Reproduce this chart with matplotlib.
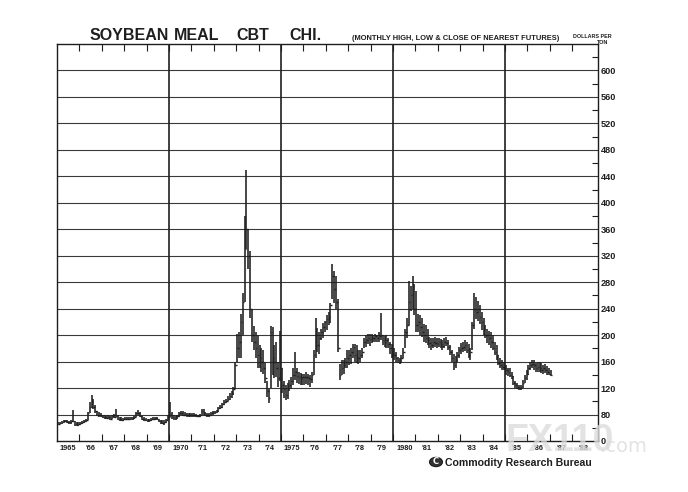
import matplotlib
matplotlib.use("Agg")
import matplotlib.pyplot as plt
from matplotlib.patches import Circle
import numpy as np

start_year = 1965

# Monthly high / low / close, $ per ton, Jan 1965 .. Jan 1987
high = [
    68, 69, 70, 71, 72, 72, 70, 72, 87, 70, 68, 68,        # 1965
    69, 70, 72, 74, 84, 99, 109, 104, 95, 86, 84, 82,      # 1966
    80, 79, 78, 79, 78, 80, 81, 88, 79, 76, 76, 75,        # 1967
    76, 76, 77, 77, 77, 78, 84, 87, 84, 78, 76, 75,        # 1968
    74, 74, 75, 76, 77, 77, 74, 72, 72, 72, 74, 80,        # 1969
    99, 84, 80, 78, 80, 84, 86, 85, 84, 83, 82, 82,        # 1970
    82, 82, 81, 80, 81, 88, 89, 84, 82, 82, 84, 86,        # 1971
    86, 87, 92, 95, 98, 102, 104, 108, 112, 115, 122, 160, # 1972
    202, 205, 232, 264, 380, 450, 360, 327, 240, 214, 205, 200,  # 1973
    185, 181, 178, 160, 131, 118, 214, 212, 185, 189, 160, 207,  # 1974
    150, 130, 125, 128, 132, 136, 150, 174, 150, 145, 143, 142,  # 1975
    142, 144, 142, 140, 144, 177, 226, 211, 205, 210, 218, 222,  # 1976
    230, 235, 249, 308, 297, 290, 255, 157, 162, 162, 165, 177,  # 1977
    177, 180, 187, 187, 185, 177, 177, 180, 195, 200, 202, 202,  # 1978
    202, 200, 202, 200, 205, 234, 200, 198, 200, 196, 190, 187,  # 1979
    180, 175, 167, 165, 170, 180, 210, 226, 282, 275, 290, 278,  # 1980
    267, 232, 230, 226, 217, 215, 210, 197, 195, 196, 197, 195,  # 1981
    195, 194, 192, 195, 197, 192, 185, 178, 172, 168, 175, 182,  # 1982
    188, 190, 192, 190, 187, 180, 220, 264, 258, 252, 245, 235,  # 1983
    226, 215, 210, 207, 205, 200, 190, 185, 170, 165, 162, 160,  # 1984
    155, 151, 150, 145, 138, 130, 127, 124, 125, 132, 140, 147,  # 1985
    155, 160, 162, 162, 158, 159, 160, 158, 155, 156, 154, 150,  # 1986
    148,                                                          # 1987
]
low = [
    64, 65, 66, 67, 68, 67, 66, 66, 68, 63, 62, 63,
    64, 65, 67, 69, 72, 82, 90, 88, 82, 78, 77, 76,
    75, 74, 73, 74, 72, 74, 75, 76, 72, 70, 70, 70,
    71, 71, 72, 72, 72, 73, 76, 79, 76, 72, 70, 70,
    69, 69, 70, 71, 72, 71, 68, 66, 65, 64, 67, 72,
    76, 74, 72, 72, 74, 76, 79, 78, 78, 77, 77, 76,
    77, 77, 76, 76, 76, 79, 80, 78, 77, 77, 79, 80,
    81, 82, 84, 88, 90, 94, 97, 100, 102, 105, 110, 118,
    160, 165, 166, 200, 250, 330, 300, 226, 189, 177, 165, 150,
    150, 145, 142, 128, 106, 97, 120, 140, 135, 136, 121, 130,
    112, 105, 102, 104, 115, 118, 125, 132, 128, 126, 124, 125,
    124, 126, 125, 122, 128, 140, 166, 175, 172, 192, 195, 205,
    208, 215, 219, 255, 249, 240, 175, 132, 140, 142, 150, 151,
    155, 157, 165, 160, 158, 157, 160, 165, 180, 182, 186, 184,
    188, 189, 190, 189, 190, 192, 185, 182, 181, 180, 172, 165,
    162, 160, 158, 156, 158, 165, 180, 195, 215, 237, 240, 230,
    204, 205, 200, 197, 190, 188, 185, 180, 178, 180, 182, 180,
    182, 180, 178, 181, 183, 178, 170, 160, 148, 150, 160, 165,
    172, 175, 176, 173, 166, 162, 178, 210, 225, 222, 217, 208,
    200, 195, 188, 185, 180, 177, 170, 162, 155, 150, 148, 147,
    140, 138, 136, 133, 125, 120, 118, 117, 117, 120, 128, 132,
    140, 147, 150, 148, 145, 144, 145, 143, 142, 143, 140, 139,
    138,
]
close = [
    66, 67, 68, 70, 70, 69, 68, 70, 70, 65, 64, 66,
    67, 68, 70, 72, 82, 92, 100, 92, 85, 80, 79, 78,
    77, 76, 75, 76, 74, 78, 77, 78, 74, 73, 72, 73,
    73, 74, 74, 75, 75, 76, 82, 83, 78, 74, 72, 72,
    71, 72, 73, 74, 75, 74, 70, 68, 67, 68, 72, 77,
    80, 77, 75, 76, 78, 82, 82, 80, 81, 80, 79, 79,
    80, 79, 78, 78, 79, 85, 82, 80, 79, 80, 82, 84,
    84, 85, 90, 92, 96, 99, 101, 104, 108, 112, 118, 155,
    180, 190, 220, 250, 330, 360, 320, 240, 200, 190, 180, 170,
    165, 160, 150, 135, 115, 105, 205, 165, 160, 150, 135, 150,
    125, 118, 110, 120, 125, 130, 140, 145, 138, 136, 135, 136,
    136, 137, 135, 134, 140, 170, 200, 185, 195, 205, 212, 220,
    225, 228, 245, 290, 270, 250, 180, 140, 150, 155, 160, 165,
    170, 175, 182, 170, 165, 165, 170, 175, 190, 192, 196, 194,
    195, 196, 198, 195, 198, 200, 192, 190, 193, 186, 180, 172,
    170, 165, 162, 160, 166, 175, 205, 215, 250, 260, 275, 240,
    215, 220, 212, 205, 200, 195, 192, 188, 185, 190, 188, 186,
    190, 186, 184, 190, 188, 182, 175, 165, 155, 162, 170, 178,
    180, 182, 185, 178, 170, 175, 215, 240, 235, 240, 228, 220,
    210, 200, 200, 195, 190, 180, 175, 170, 158, 155, 152, 150,
    148, 145, 140, 138, 128, 124, 122, 120, 122, 128, 135, 142,
    150, 155, 157, 155, 150, 152, 150, 148, 150, 148, 145, 141,
    140,
]

year_labels = ["1965", "'66", "'67", "'68", "'69", "1970", "'71", "'72", "'73",
               "'74", "1975", "'76", "'77", "'78", "'79", "1980", "'81", "'82",
               "'83", "'84", "'85", "'86", "'87", "'88"]
price_ticks = [40, 80, 120, 160, 200, 240, 280, 320, 360, 400, 440, 480, 520, 560, 600]
price_labels = ["0", "80", "120", "160", "200", "240", "280", "320", "360", "400",
                "440", "480", "520", "560", "600"]

INK = "#1e1e1e"
FAM = ["Liberation Sans", "DejaVu Sans"]
fig = plt.figure(figsize=(6.88, 4.92), dpi=100)
fig.patch.set_facecolor("white")
ax = fig.add_axes([57 / 688, 1 - 441 / 492, (598 - 57) / 688, (441 - 44) / 492])

n = len(high)
x = start_year + (np.arange(n) + 0.5) / 12.0
ax.vlines(x, low, high, color=INK, lw=1.15, zorder=3)
ax.hlines(close, x, x + 0.07, color=INK, lw=1.0, zorder=3)

ax.set_xlim(1965, 1989.15)
ax.set_ylim(40, 640)

# grid
for p in price_ticks[1:]:
    ax.axhline(p, color="#3a3a3a", lw=0.8, zorder=1)
for yr in [1970, 1975, 1980, 1985]:
    ax.axvline(yr, color="#202020", lw=1.2, zorder=1)

# y axis on the right
ax.yaxis.tick_right()
ax.set_yticks(price_ticks)
ax.set_yticklabels(price_labels, fontsize=6.6, fontweight="bold", family=FAM)
ax.set_yticks(np.arange(60, 640, 40), minor=True)
ax.tick_params(axis="y", which="major", length=0, pad=2, labelcolor=INK)
ax.tick_params(axis="y", which="minor", direction="in", length=4, width=0.8,
               left=False, right=True, color=INK)

# x axis
ax.set_xticks(np.arange(1966, 1989))
ax.set_xticklabels([])
ax.set_xticks(np.arange(1965, 1989) + 0.5, minor=True)
ax.set_xticklabels(year_labels, minor=True, fontsize=5.3, fontweight="bold", family=FAM)
ax.tick_params(axis="x", which="major", direction="in", length=5, width=0.8,
               top=True, bottom=True, color=INK)
ax.tick_params(axis="x", which="minor", length=0, pad=3, labelcolor=INK)

for s in ax.spines.values():
    s.set_color(INK)
    s.set_linewidth(1.0)

# titles
tfont = dict(fontsize=11.5, fontweight="bold", color=INK, family=FAM,
             va="center", ha="left")
fig.text(90 / 688, 1 - 35 / 492, "SOYBEAN", **tfont)
fig.text(174 / 688, 1 - 35 / 492, "MEAL", **tfont)
fig.text(236 / 688, 1 - 35 / 492, "CBT", **tfont)
fig.text(289 / 688, 1 - 35 / 492, "CHI.", **tfont)
fig.text(352 / 688, 1 - 38 / 492, "(MONTHLY HIGH, LOW & CLOSE OF NEAREST FUTURES)",
         fontsize=5.4, fontweight="bold", color=INK, family=FAM,
         va="center", ha="left")
fig.text(592 / 688, 1 - 36 / 492, "DOLLARS PER", fontsize=3.9, fontweight="bold",
         color=INK, family=FAM, va="center", ha="center")
fig.text(603 / 688, 1 - 43 / 492, "TON", fontsize=3.9, fontweight="bold",
         color=INK, family=FAM, va="center", ha="center")

# publisher
fig.patches.append(Circle((436 / 688, 1 - 462 / 492), 6.5 / 688, transform=fig.transFigure,
                          facecolor="#333333", edgecolor=INK, lw=0.8))
fig.text(436 / 688, 1 - 462 / 492, "C", fontsize=6, fontweight="bold", color="white",
         ha="center", va="center")
fig.text(445 / 688, 1 - 463 / 492, "Commodity Research Bureau", fontsize=7.6,
         fontweight="bold", color=INK, family=FAM, ha="left", va="center")

# watermark
fig.text(505 / 688, 1 - 441 / 492, "FX110", fontsize=27, fontweight="bold",
         color="#dcdcdc", alpha=0.8, ha="left", va="center", family=FAM, zorder=10)
fig.text(600 / 688, 1 - 447 / 492, ".com", fontsize=14, color="#dcdcdc",
         alpha=0.8, ha="left", va="center", zorder=10)

fig.savefig("out.png", dpi=100, facecolor="white")
